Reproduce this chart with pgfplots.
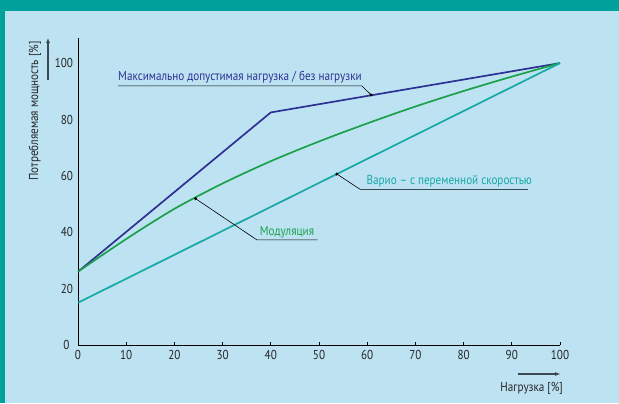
\documentclass[border=0pt]{standalone}
\usepackage{fontspec}
\setmainfont{PT Sans}[FakeStretch=0.86]
\usepackage{pgfplots}
\pgfplotsset{compat=1.18}
\usetikzlibrary{arrows.meta}
\definecolor{bgblue}{HTML}{BDE3F2}
\definecolor{frametl}{HTML}{00A19A}
\definecolor{maxblue}{HTML}{2E3192}
\definecolor{modgreen}{HTML}{1BA04B}
\definecolor{variot}{HTML}{17A8A6}
\definecolor{arrgray}{HTML}{3A4A50}

\pgfplotstableread{
x y
0 26
40 82.5
100 100
}\maxdata
\pgfplotstableread{
x y
0 26
10 37.6
20 48.3
30 57.3
40 65.2
50 72.2
60 78.6
70 84.6
80 90.1
90 95.2
100 100
}\moddata
\pgfplotstableread{
x y
0 15
100 100
}\variodata

\begin{document}
\begin{tikzpicture}[x=1bp,y=1bp,font=\fontsize{12.5}{14}\selectfont]
\useasboundingbox (0,0) rectangle (619,403);
\fill[frametl] (0,0) rectangle (619,403);
\fill[bgblue] (5,0) rectangle (619,392);
\begin{axis}[
  at={(78bp,58bp)}, anchor=south west,
  scale only axis, width=482bp, height=307bp,
  xmin=0, xmax=100, ymin=0, ymax=108.9,
  axis x line=bottom, axis y line=left,
  axis line style={-, black, line width=0.9pt},
  xtick={0,10,...,100},
  ytick={20,40,...,100},
  extra y ticks={0},
  extra y tick style={ytick align=outside, major tick length=5bp, tick style={black, line width=0.8pt}},
  ytick style={draw=none},
  xtick align=inside,
  x tick style={black, line width=0.8pt},
  major tick length=3bp,
  clip=false,
  /pgf/number format/assume math mode=true,
  tick label style={font=\fontsize{13}{15}\selectfont, text=black!85},
  xticklabel style={yshift=-2bp},
]
\addplot[maxblue, line width=1.7bp] table {\maxdata};
\addplot[modgreen, line width=1.7bp, smooth] table {\moddata};
\addplot[variot, line width=1.7bp] table {\variodata};

% leader lines
\draw[black, line width=0.6bp] (axis cs:8.3,91.9) -- (axis cs:58.9,91.9) -- (axis cs:60.8,88.7);
\draw[black, line width=0.6bp] (axis cs:24.4,51.9) -- (axis cs:37.1,37.3) -- (axis cs:49.7,37.3);
\draw[black, line width=0.6bp] (axis cs:53.7,60.65) -- (axis cs:58.5,55.25);
\draw[arrgray, line width=1bp] (axis cs:58.5,55.25) -- (axis cs:93.4,55.25);
\addplot[only marks, mark=*, mark size=1.3bp, black] coordinates {(60.8,88.7) (24.4,51.9) (53.7,60.65)};

\node[anchor=base west, inner sep=0, text=maxblue, font=\fontsize{13}{15}\selectfont] at (axis cs:8.3,91.9) [yshift=5bp] {Максимально допустимая нагрузка / без нагрузки};
\node[anchor=base west, inner sep=0, text=modgreen, font=\fontsize{13}{15}\selectfont] at (axis cs:37.7,37.3) [yshift=4.3bp] {Модуляция};
\node[anchor=base west, inner sep=0, text=variot, font=\fontsize{13}{15}\selectfont] at (axis cs:59.85,55.25) [yshift=4.3bp] {Варио – с переменной скоростью};
\end{axis}
\node[rotate=90, text=black!85, font=\fontsize{13}{15}\selectfont] at (35,292) {Потребляемая мощность [\%]};
\draw[arrgray, line width=1.2bp, -{Latex[length=5bp,width=4bp]}] (48,323) -- (48,365);
\node[anchor=east, inner sep=0, text=black!85, font=\fontsize{13}{15}\selectfont] at (563,15) {Нагрузка [\%]};
\draw[arrgray, line width=1.5bp, -{Latex[length=6bp,width=4bp]}] (518,29) -- (561,29);
\end{tikzpicture}
\end{document}
